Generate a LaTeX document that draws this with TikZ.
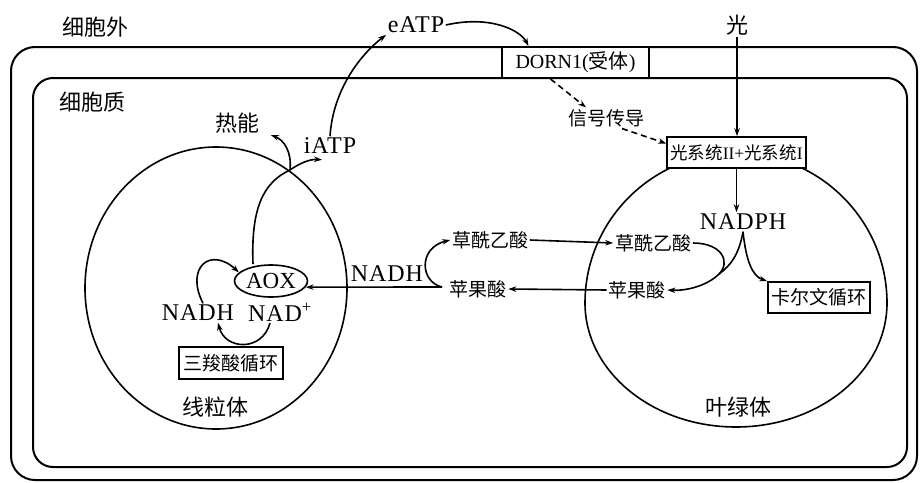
\documentclass[tikz,border=0pt]{standalone}
\usepackage{fontspec}
\setmainfont{Liberation Serif}[LetterSpace=4]
\newfontfamily\cjk{Noto Sans CJK SC}
\newfontfamily\tight{Liberation Serif}
\usetikzlibrary{arrows.meta,shapes.geometric}
\begin{document}
\begin{tikzpicture}[x=1pt,y=-1pt,line width=1.6pt,
  >={Stealth[length=8pt,width=5.5pt]},
  txt/.style={inner sep=1pt},
  lat/.style={txt,font=\fontsize{24}{26}\selectfont},
  cjkL/.style={txt,font=\cjk\fontsize{22}{24}\selectfont},
  cjkM/.style={txt,font=\cjk\fontsize{19}{21}\selectfont},
  cjkS/.style={txt,font=\cjk\fontsize{17.5}{19}\selectfont},
  boxed/.style={draw,fill=white,inner sep=0pt},
  memb/.style={line width=2pt},
  dsh/.style={dash pattern=on 6pt off 4pt}]
\useasboundingbox (0,0) rectangle (920,482);
% membranes
\draw[memb,rounded corners=24pt] (11,47) rectangle (917,480);
\draw[memb,rounded corners=20pt] (33,78) rectangle (907,467);
\node[boxed,memb,minimum width=147pt,minimum height=31pt,font=\tight\fontsize{20}{22}\selectfont] (dorn) at (575.5,62.5) {DORN1({\cjk 受体})};
% organelles
\node[draw,ellipse,minimum width=262pt,minimum height=282pt,inner sep=0pt] (mito) at (216,288) {};
\draw (585,303) .. controls (585,220.2) and (652.6,153) .. (736,153)
  .. controls (819.4,153) and (887,220.2) .. (887,303)
  .. controls (887,371.5) and (819.4,427) .. (736,427)
  .. controls (652.6,427) and (585,371.5) .. (585,303) -- cycle;
% labels
\node[cjkL] (ext) at (95,27) {细胞外};
\node[cjkL] (cyt) at (92,102) {细胞质};
\node[lat] (eatp) at (416,25) {eATP};
\node[cjkL] (light) at (737,25) {光};
\node[cjkM] (sig) at (606,118) {信号传导};
\node[boxed,cjkS,minimum width=139pt,minimum height=31pt] (ps) at (736.5,152.5) {光系统{\tight II+}光系统{\tight I}};
\node[cjkL] (heat) at (237,123) {热能};
\node[lat] (iatp) at (330,146) {iATP};
\node[draw,ellipse,minimum width=73pt,minimum height=32pt,inner sep=0pt,font=\tight\fontsize{23}{25}\selectfont] (aox) at (271,281) {AOX};
\node[lat] (nadhL) at (198,313) {NADH};
\node[lat] (nad) at (280,312) {NAD\textsuperscript{+}};
\node[boxed,cjkM,minimum width=104pt,minimum height=32pt] (tca) at (231,363) {三羧酸循环};
\node[cjkL] (mitolab) at (215,407) {线粒体};
\node[lat] (nadhR) at (387,274) {NADH};
\node[cjkM] (oaa1) at (490,240) {草酰乙酸};
\node[cjkM] (mal1) at (478,289) {苹果酸};
\node[cjkM] (oaa2) at (653,243) {草酰乙酸};
\node[cjkM] (mal2) at (637,290) {苹果酸};
\node[lat] (nadph) at (743,222) {NADPH};
\node[boxed,cjkM,minimum width=102pt,minimum height=31pt] (calvin) at (819,297.5) {卡尔文循环};
\node[cjkL] (chlab) at (738,407) {叶绿体};
% helper points
\coordinate (br) at (290,170);
\coordinate (j) at (442,287);
\coordinate (m) at (719,274);
% connectors
\draw[->] (iatp.north) .. controls (333,90) and (360,55) .. (eatp.south west);
\draw[->] (eatp.east) .. controls (490,15) and (520,30) .. ([xshift=-47pt]dorn.north);
\draw[->,dsh] ([xshift=-25pt]dorn.south) -- ([xshift=-20pt]sig.north);
\draw[->,dsh] ([xshift=16pt]sig.south) -- ([yshift=9pt]ps.west);
\draw[->] (light.south) -- (light.south |- ps.north);
\draw[->] (ps.south) -- (ps.south |- nadph.north);
\draw (nadph.south) .. controls (739,255) and (730,266) .. (m);
\draw[->] (nadph.south) .. controls (746,260) and (752,276) .. (calvin.north west);
\draw[->] (oaa2.east) .. controls (722,243) and (731,262) .. (m) .. controls (708,285) and (688,291) .. (mal2.east);
\draw[->] (oaa1.east) -- (oaa2.west);
\draw[->] (mal2.west) -- (mal1.east);
\draw[->] (j) .. controls (420,282) and (418,248) .. (oaa1.west);
\draw[->] (j) -- (aox.-10);
\draw[->] ([xshift=5pt]nadhL.north) .. controls (185,268) and (210,246) .. (aox.165);
\draw[->] ([xshift=-10pt]nad.south) .. controls (262,352) and (225,350) .. ([xshift=20pt]nadhL.south);
\draw ([xshift=-18pt]aox.north) .. controls (251,210) and (262,183) .. (br);
\draw[->] (br) .. controls (300,163) and (310,159) .. ([xshift=-8pt,yshift=-4pt]iatp.south);
\draw[->] (br) .. controls (292,152) and (284,140) .. ([xshift=10pt]heat.south east);
\end{tikzpicture}
\end{document}
